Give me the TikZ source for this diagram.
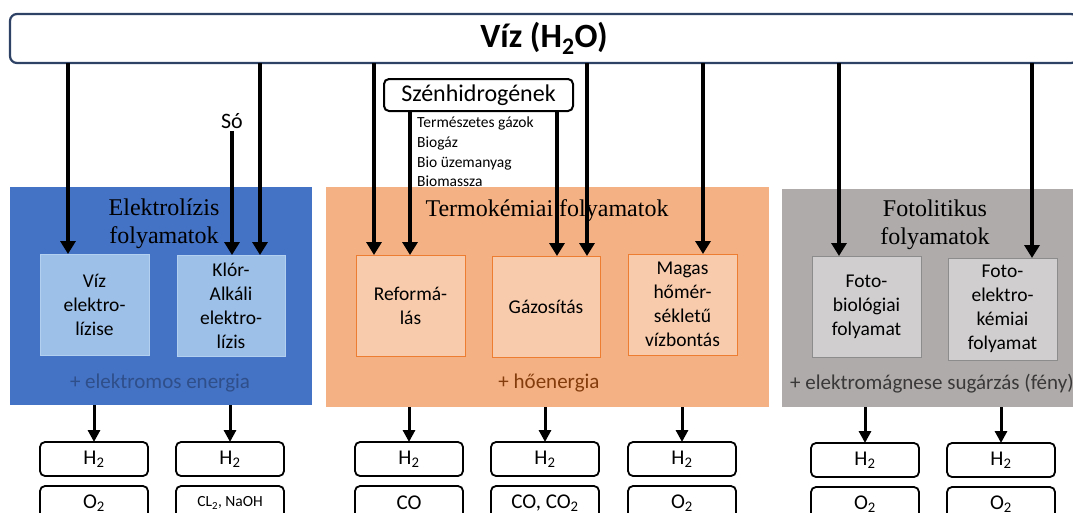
\documentclass[tikz,border=0pt]{standalone}
\usepackage{fontspec}
\setmainfont{Carlito}
\newfontfamily\serifh{Liberation Serif}
\usetikzlibrary{arrows.meta}
\newcommand\setfs[2]{\fontsize{#1}{#2}\selectfont}
\definecolor{bluepanel}{HTML}{4472C4}
\definecolor{orangepanel}{HTML}{F4B183}
\definecolor{graypanel}{HTML}{AFABAB}
\definecolor{blueinner}{HTML}{9DC0E8}
\definecolor{blueinnerline}{HTML}{B4D0F0}
\definecolor{orangeinner}{HTML}{F8CBAD}
\definecolor{orangeline}{HTML}{ED7D31}
\definecolor{grayinner}{HTML}{D0CECE}
\definecolor{grayline}{HTML}{8C8C8C}
\definecolor{topline}{HTML}{2E4266}
\definecolor{bluetext}{HTML}{2F4F8A}
\definecolor{browntext}{HTML}{843C0C}
\definecolor{graytext}{HTML}{3A3838}
\tikzset{
  panel/.style={draw=none, inner sep=0pt, outer sep=0pt, anchor=north west},
  proc/.style={anchor=north west, minimum width=109pt, minimum height=101pt, inner sep=0pt, outer sep=0pt, line width=1pt, align=center, font=\setfs{19.5}{24}},
  bproc/.style={proc, fill=blueinner, draw=blueinnerline},
  oproc/.style={proc, fill=orangeinner, draw=orangeline},
  gproc/.style={proc, fill=grayinner, draw=grayline},
  outbox/.style={draw=black, line width=1.8pt, rounded corners=5pt, fill=white, minimum width=108pt, minimum height=34pt, inner sep=0pt, outer sep=0pt, anchor=north west, font=\setfs{21}{24}},
  heading/.style={font=\serifh\setfs{24}{28}, align=center, inner sep=0pt},
  energy/.style={font=\setfs{21}{24}, inner sep=0pt},
  small/.style={font=\setfs{15.5}{20}, inner sep=0pt, anchor=base west},
  arr/.style={line width=4pt, -{Triangle[width=15pt,length=13pt]}},
  arrb/.style={line width=3pt, -{Triangle[width=12pt,length=12pt]}}
}
\begin{document}
\begin{tikzpicture}[x=1pt,y=-1pt]
\clip (0,0) rectangle (1073,512);
\fill[white] (0,0) rectangle (1073,512);

% top box
\node[anchor=north west, minimum width=1068pt, minimum height=49pt, rounded corners=7pt, draw=topline, line width=2.2pt, fill=white, inner sep=0pt, outer sep=0pt, font=\setfs{34}{40}\bfseries] (top) at (10,14) {Víz (H\textsubscript{2}O)};

% panels
\node[panel, fill=bluepanel, minimum width=302pt, minimum height=218pt] (blue) at (10,187) {};
\node[panel, fill=orangepanel, minimum width=443pt, minimum height=220pt] (orange) at (326,187) {};
\node[panel, fill=graypanel, minimum width=300pt, minimum height=218pt] (gray) at (782,189) {};

% headings
\node[heading, anchor=north] (hb) at (164,199) {Elektrolízis\\folyamatok};
\node[heading, anchor=base] (ho) at (547,216) {Termokémiai folyamatok};
\node[heading, anchor=north] (hg) at (935,200) {Fotolitikus\\folyamatok};

% energy
\node[energy, anchor=base, text=bluetext] (eb) at (160,388) {+ elektromos energia};
\node[energy, anchor=base, text=browntext] (eo) at (549,388) {+ hőenergia};
\node[energy, anchor=base west, text=graytext] (eg) at (790,389) {+ elektromágnese sugárzás (fény)};

% process boxes
\node[bproc] (vize) at (40,254) {Víz\\elektro-\\lízise};
\node[bproc, minimum width=108pt] (klor) at (177,255) {Klór-\\Alkáli\\elektro-\\lízis};
\node[oproc] (reform) at (356,255) {Reformá-\\lás};
\node[oproc, minimum width=108pt] (gaz) at (492,256) {Gázosítás};
\node[oproc] (magas) at (628,254) {Magas\\hőmér-\\sékletű\\vízbontás};
\node[gproc] (fbio) at (812,256) {Foto-\\biológiai\\folyamat};
\node[gproc, minimum height=102pt] (fel) at (948,258) {Foto-\\elektro-\\kémiai\\folyamat};

% inputs
\node[draw=black, line width=2pt, rounded corners=5pt, fill=white, anchor=north west, minimum width=189pt, minimum height=32pt, inner sep=0pt, outer sep=0pt, font=\setfs{24}{28}] (szh) at (384,79) {Szénhidrogének};
\node[small] (l1) at (417,127) {Természetes gázok};
\node[small] (l2) at (417,147) {Biogáz};
\node[small] (l3) at (417,167) {Bio üzemanyag};
\node[small] (l4) at (417,186) {Biomassza};
\node[font=\setfs{22}{26}, inner sep=2pt] (so) at (232,121) {Só};

% output boxes
\node[outbox] (o1) at (40,442) {H\textsubscript{2}};
\node[outbox] (o2) at (176,442) {H\textsubscript{2}};
\node[outbox] (o3) at (355,442) {H\textsubscript{2}};
\node[outbox] (o4) at (491,442) {H\textsubscript{2}};
\node[outbox] (o5) at (628,442) {H\textsubscript{2}};
\node[outbox] (o6) at (811,443) {H\textsubscript{2}};
\node[outbox] (o7) at (947,443) {H\textsubscript{2}};
\node[outbox] (p1) at (40,486) {O\textsubscript{2}};
\node[outbox, font=\setfs{15.5}{18}] (p2) at (176,486) {CL\textsubscript{2}, NaOH};
\node[outbox] (p3) at (355,486) {CO};
\node[outbox] (p4) at (491,486) {CO, CO\textsubscript{2}};
\node[outbox] (p5) at (628,486) {O\textsubscript{2}};
\node[outbox] (p6) at (811,487) {O\textsubscript{2}};
\node[outbox] (p7) at (947,487) {O\textsubscript{2}};

% arrow end coordinates
\path (vize.north west) ++(28,0) coordinate (t1);
\path (klor.north west) ++(83,0) coordinate (t2);
\path (reform.north west) ++(18,0) coordinate (t3);
\path (reform.north west) ++(54,0) coordinate (t4);
\path (gaz.north west) ++(65,0) coordinate (t5);
\path (gaz.north west) ++(95,0) coordinate (t6);
\path (magas.north west) ++(75,0) coordinate (t7);
\path (fbio.north west) ++(27,0) coordinate (t8);
\path (fel.north west) ++(84,0) coordinate (t9);

% top arrows
\draw[arr] (top.south -| t1) -- (t1);
\draw[arr] (top.south -| t2) -- (t2);
\draw[arr] (so.south) -- (so.south |- klor.north);
\draw[arr] (top.south -| t3) -- (t3);
\draw[arr] (szh.south -| t4) -- (t4);
\draw[arr] (szh.south -| t5) -- (t5);
\draw[arr] (top.south -| t6) -- (t6);
\draw[arr] (top.south -| t7) -- (t7);
\draw[arr] (top.south -| t8) -- (t8);
\draw[arr] (top.south -| t9) -- (t9);

% bottom arrows
\draw[arrb] (blue.south -| o1.north) -- (o1.north);
\draw[arrb] (blue.south -| o2.north) -- (o2.north);
\draw[arrb] (orange.south -| o3.north) -- (o3.north);
\draw[arrb] (orange.south -| o4.north) -- (o4.north);
\draw[arrb] (orange.south -| o5.north) -- (o5.north);
\draw[arrb] (gray.south -| o6.north) -- (o6.north);
\draw[arrb] (gray.south -| o7.north) -- (o7.north);
\end{tikzpicture}
\end{document}
